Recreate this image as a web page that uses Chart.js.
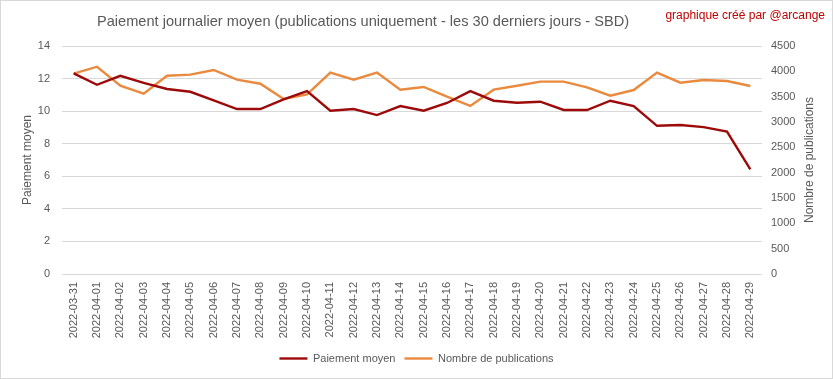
<!DOCTYPE html>
<html><head><meta charset="utf-8">
<script src="https://cdn.jsdelivr.net/npm/chart.js@4"></script>
<style>html,body{margin:0;padding:0;background:#fff}#wrap{width:833px;height:379px}</style>
</head><body><div id="wrap"><canvas id="c" width="833" height="379"></canvas></div>
<script>
const categories = ["2022-03-31","2022-04-01","2022-04-02","2022-04-03","2022-04-04","2022-04-05","2022-04-06","2022-04-07","2022-04-08","2022-04-09","2022-04-10","2022-04-11","2022-04-12","2022-04-13","2022-04-14","2022-04-15","2022-04-16","2022-04-17","2022-04-18","2022-04-19","2022-04-20","2022-04-21","2022-04-22","2022-04-23","2022-04-24","2022-04-25","2022-04-26","2022-04-27","2022-04-28","2022-04-29"];
const paiementMoyen = [12.32,11.62,12.17,11.74,11.36,11.19,10.66,10.13,10.13,10.72,11.23,10.03,10.13,9.76,10.31,10.03,10.5,11.23,10.64,10.52,10.58,10.07,10.07,10.64,10.31,9.10,9.15,9.02,8.74,6.43];
const nombrePublications = [3953,4091,3716,3559,3914,3934,4026,3835,3756,3454,3546,3974,3835,3974,3638,3691,3500,3316,3638,3716,3796,3796,3684,3519,3631,3974,3776,3829,3809,3710];
const leftTicks = {min:0,max:14,step:2};
const rightTicks = {min:0,max:4500,step:500};

const FONT = "'Liberation Sans', Arial, sans-serif";
const GREY = '#595959';

const deco = {
  id:'deco',
  beforeDraw(chart){
    const ctx = chart.ctx;
    ctx.save();
    ctx.fillStyle='#fff';
    ctx.fillRect(0,0,chart.width,chart.height);
    ctx.strokeStyle='#d9d9d9';
    ctx.lineWidth=1;
    ctx.strokeRect(0.5,0.5,chart.width-1,chart.height-1);
    ctx.restore();
  },
  afterDraw(chart){
    const ctx = chart.ctx;
    const ca = chart.chartArea;
    ctx.save();
    ctx.textBaseline='middle';
    ctx.fillStyle=GREY;
    ctx.font="14.6px "+FONT;
    ctx.textAlign='center';
    ctx.fillText("Paiement journalier moyen (publications uniquement - les 30 derniers jours - SBD)",363,22);
    ctx.fillStyle='#c00000';
    ctx.font="12px "+FONT;
    ctx.textAlign='right';
    ctx.fillText("graphique créé par @arcange",825,16);
    ctx.fillStyle=GREY;
    ctx.font="12px "+FONT;
    ctx.textAlign='center';
    ctx.translate(810,(ca.top+ca.bottom)/2);
    ctx.rotate(-Math.PI/2);
    ctx.fillText("Nombre de publications",0,0);
    ctx.restore();
  }
};

new Chart(document.getElementById('c'),{
  type:'line',
  data:{
    labels:categories,
    datasets:[
      {label:'Paiement moyen',data:paiementMoyen,yAxisID:'y',borderColor:'#9c0a0a',backgroundColor:'#9c0a0a',borderWidth:2.4,pointRadius:0,tension:0},
      {label:'Nombre de publications',data:nombrePublications,yAxisID:'y1',borderColor:'#ea8a3f',backgroundColor:'#ea8a3f',borderWidth:2.4,pointRadius:0,tension:0}
    ]
  },
  options:{
    responsive:false,animation:false,
    layout:{padding:{top:46,bottom:5,left:0,right:0}},
    plugins:{
      legend:{position:'bottom',labels:{font:{family:FONT,size:11},color:GREY,usePointStyle:true,pointStyle:'line',pointStyleWidth:28,padding:9,boxHeight:11}},
      tooltip:{enabled:false},
      title:{display:false}
    },
    scales:{
      x:{
        offset:true,
        grid:{display:false,drawTicks:false},
        border:{display:false},
        ticks:{color:GREY,font:{family:FONT,size:11},minRotation:90,maxRotation:90,autoSkip:false,padding:8},
        afterFit(a){a.height=70;}
      },
      y:{
        position:'left',min:leftTicks.min,max:leftTicks.max,
        ticks:{stepSize:leftTicks.step,color:GREY,font:{family:FONT,size:11},padding:12},
        grid:{color:'#d9d9d9',drawTicks:false,lineWidth:1},
        border:{display:false},
        title:{display:true,text:'Paiement moyen',color:GREY,font:{family:FONT,size:12},padding:{top:20,bottom:0}},
        afterFit(a){a.width=62;}
      },
      y1:{
        position:'right',min:rightTicks.min,max:rightTicks.max,
        ticks:{stepSize:rightTicks.step,color:GREY,font:{family:FONT,size:11},padding:9,callback:(v)=>String(v)},
        grid:{display:false,drawTicks:false},
        border:{display:false},
        afterFit(a){a.width=71;}
      }
    }
  },
  plugins:[deco]
});
</script></body></html>
